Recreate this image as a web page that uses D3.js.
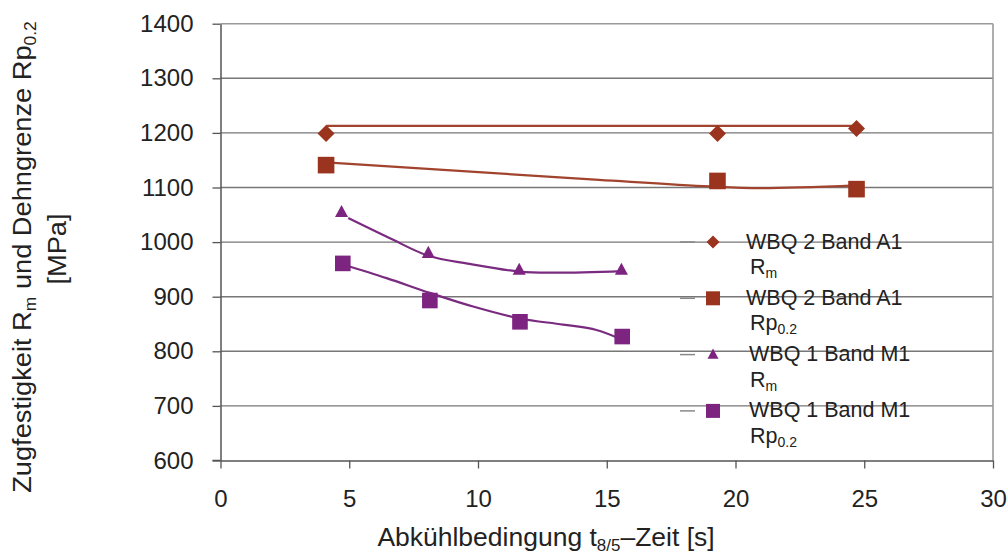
<!DOCTYPE html>
<html>
<head>
<meta charset="utf-8">
<script src="https://cdn.jsdelivr.net/npm/d3@7"></script>
<style>
  html, body { margin: 0; padding: 0; background: #fff; }
  svg { display: block; font-family: "Liberation Sans", Arial, sans-serif; }
</style>
</head>
<body>
<svg id="chart" width="1008" height="554"></svg>
<script>
// ---- data ----
const xTicks = [0, 5, 10, 15, 20, 25, 30];
const yTicks = [600, 700, 800, 900, 1000, 1100, 1200, 1300, 1400];

// WBQ 2 Band A1
const a1X = [4.1, 19.3, 24.7];
const a1Rm = [1199, 1199, 1208];
const a1Rp = [1141, 1112, 1097];
// WBQ 1 Band M1
const m1RmX = [4.7, 8.07, 11.6, 15.57];
const m1Rm = [1055, 980, 949, 949];
const m1RpX = [4.75, 8.13, 11.63, 15.6];
const m1Rp = [961, 893, 854, 827];

// fitted trend lines as drawn in the reference
const trA1RmX = [4.1, 24.7];
const trA1RmY = [1213, 1213];
const trA1RpX = [4.1, 14.7, 19.0, 21.0, 24.7];
const trA1RpY = [1146, 1114, 1102, 1099, 1104];
const trM1RmX = [4.96, 6.58, 8.07, 9.68, 11.6, 12.9, 15.6];
const trM1RmY = [1044, 1007, 975, 960, 946, 944, 947];
const trM1RpX = [4.75, 6.45, 8.13, 9.81, 11.63, 13.3, 14.6, 15.6];
const trM1RpY = [959, 934, 907, 882, 860, 849, 839, 821];

const legendMain = ["WBQ 2 Band A1", "WBQ 2 Band A1", "WBQ 1 Band M1", "WBQ 1 Band M1"];
const legendBase = ["R", "Rp", "R", "Rp"];
const legendSub = ["m", "0.2", "m", "0.2"];
const legendShape = ["diamond", "square", "triangle", "square"];

const colA1 = "#9b341f";
const colA1Line = "#a2432e";
const colM1 = "#7d2480";
const colM1Line = "#7a2b80";
const legendCol = [colA1, colA1, colM1, colM1];

// ---- layout ----
const svg = d3.select("#chart");
const x = d3.scaleLinear().domain([0, 30]).range([220.5, 993]);
const y = d3.scaleLinear().domain([600, 1400]).range([460.5, 23.7]);

// gridlines
svg.append("g").selectAll("line").data(yTicks.filter(d => d > 600)).join("line")
  .attr("x1", x(0)).attr("x2", x(30))
  .attr("y1", d => y(d)).attr("y2", d => y(d))
  .attr("stroke", d => d === 1400 ? "#9a9a9a" : "#777").attr("stroke-width", 1.4);
// right border
svg.append("line").attr("x1", x(30)).attr("x2", x(30)).attr("y1", y(1400)).attr("y2", y(600))
  .attr("stroke", "#9a9a9a").attr("stroke-width", 1.6);

// axes
const yAxis = d3.axisLeft(y).tickValues(yTicks).tickFormat(d3.format("d"))
  .tickSize(8).tickSizeOuter(0).tickPadding(19);
const gy = svg.append("g").attr("transform", `translate(${x(0)},0)`).call(yAxis);
const xAxis = d3.axisBottom(x).tickValues(xTicks).tickFormat(d3.format("d"))
  .tickSize(8).tickSizeOuter(0).tickPadding(21);
const gx = svg.append("g").attr("transform", `translate(0,${y(600)})`).call(xAxis);
[gx, gy].forEach(g => {
  g.select(".domain").attr("stroke", "#555").attr("stroke-width", 1.5);
  g.selectAll(".tick line").attr("stroke", "#555").attr("stroke-width", 1.3);
  g.selectAll(".tick text").attr("fill", "#222").style("font-size", "24px")
    .style("font-family", '"Liberation Sans", Arial, sans-serif');
});
svg.append("line").attr("x1", x(0) - 8).attr("x2", x(0)).attr("y1", y(600)).attr("y2", y(600))
  .attr("stroke", "#555").attr("stroke-width", 1.5);

// trend lines
const line = d3.line().x(d => x(d[0])).y(d => y(d[1])).curve(d3.curveCatmullRom.alpha(0.5));
const trends = [
  [d3.zip(trA1RmX, trA1RmY), colA1Line],
  [d3.zip(trA1RpX, trA1RpY), colA1Line],
  [d3.zip(trM1RmX, trM1RmY), colM1Line],
  [d3.zip(trM1RpX, trM1RpY), colM1Line]
];
svg.append("g").selectAll("path").data(trends).join("path")
  .attr("d", d => line(d[0])).attr("fill", "none")
  .attr("stroke", d => d[1]).attr("stroke-width", 2.2);

// markers
function shapePath(kind, s) {
  if (kind === "diamond") return `M0,${-s}L${s},0L0,${s}L${-s},0Z`;
  if (kind === "square") return `M${-s},${-s}H${s}V${s}H${-s}Z`;
  if (kind === "triangle") return `M0,${-s * 1.1}L${s},${s * 0.75}L${-s},${s * 0.75}Z`;
}
const markers = svg.append("g");
function drawSeries(xs, ys, kind, size, col) {
  markers.append("g").selectAll("path").data(d3.zip(xs, ys)).join("path")
    .attr("transform", d => `translate(${x(d[0])},${y(d[1])})`)
    .attr("d", shapePath(kind, size)).attr("fill", col);
}
drawSeries(a1X, a1Rm, "diamond", 8.5, colA1);
drawSeries(a1X, a1Rp, "square", 8.3, colA1);
drawSeries(m1RmX, m1Rm, "triangle", 6.5, colM1);
drawSeries(m1RpX, m1Rp, "square", 7.8, colM1);

// legend
const lg = svg.append("g");
const legendSizes = [6.5, 7, 5.5, 7];
legendMain.forEach((t, i) => {
  const cy = 242 + i * 56.3;
  lg.append("line").attr("x1", 680).attr("x2", 695).attr("y1", cy).attr("y2", cy)
    .attr("stroke", "#8a8a8a").attr("stroke-width", 1.5);
  lg.append("path").attr("transform", `translate(713,${cy})`)
    .attr("d", shapePath(legendShape[i], legendSizes[i])).attr("fill", legendCol[i]);
  lg.append("text").attr("x", 746 + (i >= 2 ? 3 : 0)).attr("y", cy + 6.5)
    .attr("fill", "#222").style("font-size", "21.5px").text(t);
  const t2 = lg.append("text").attr("x", 750).attr("y", cy + 32)
    .attr("fill", "#222").style("font-size", "21.5px");
  t2.append("tspan").text(legendBase[i]);
  t2.append("tspan").attr("dy", 4).style("font-size", "14px").text(legendSub[i]);
});

// axis titles
const xt = svg.append("text").attr("transform", "translate(546,546) scale(1.06,1)")
  .attr("text-anchor", "middle").attr("fill", "#222").style("font-size", "25px");
xt.append("tspan").text("Abkühlbedingung t");
xt.append("tspan").attr("dy", 5).style("font-size", "16px").text("8/5");
xt.append("tspan").attr("dy", -5).text("–Zeit [s]");

const yt = svg.append("text").attr("transform", "translate(31,257) rotate(-90) scale(1.09,1)")
  .attr("text-anchor", "middle").attr("fill", "#222").style("font-size", "25px");
yt.append("tspan").text("Zugfestigkeit R");
yt.append("tspan").attr("dy", 5).style("font-size", "16px").text("m");
yt.append("tspan").attr("dy", -5).text(" und Dehngrenze Rp");
yt.append("tspan").attr("dy", 5).style("font-size", "16px").text("0.2");

svg.append("text").attr("transform", "translate(66,249) rotate(-90) scale(1.09,1)")
  .attr("text-anchor", "middle").attr("fill", "#222").style("font-size", "25px").text("[MPa]");
</script>
</body>
</html>
